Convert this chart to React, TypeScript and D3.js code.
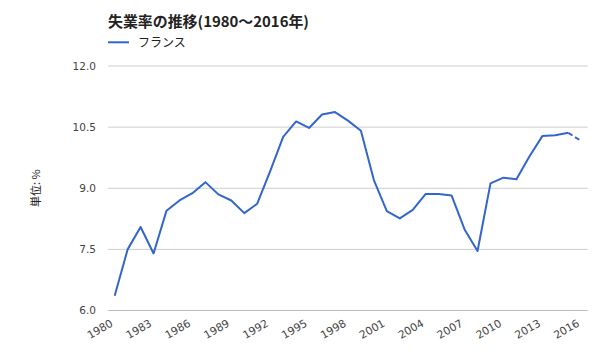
import React from "react";
import * as d3 from "d3";

const years = d3.range(1980, 2017).map(String);
const rates = [
  6.36, 7.5, 8.05, 7.4, 8.45, 8.7, 8.88, 9.15, 8.85, 8.7,
  8.39, 8.62, 9.42, 10.26, 10.64, 10.48, 10.81, 10.87, 10.66, 10.41,
  9.2, 8.44, 8.26, 8.47, 8.86, 8.86, 8.82, 7.99, 7.46, 9.12,
  9.26, 9.22, 9.78, 10.28, 10.3, 10.36, 10.16,
];
const yTicks = [6.0, 7.5, 9.0, 10.5, 12.0];
const xTickYears = d3.range(1980, 2017, 3).map(String);
const seriesName = "フランス";
const title = "失業率の推移(1980〜2016年)";
const yLabel = "単位: %";
// last value is an estimate -> dashed
const estimateFrom = 2015;

const W = 600;
const H = 360;
const left = 108.2;
const right = 587.7;
const top = 66;
const bottom = 310.5;
const cjk = "'Noto Sans CJK JP', 'Noto Sans', sans-serif";
const num = "'DejaVu Sans', 'Noto Sans CJK JP', sans-serif";
const blue = "#3366cc";

export default function App() {
  const x = d3.scalePoint<string>().domain(years).range([left, right]).padding(0.5);
  const y = d3.scaleLinear().domain([6, 12]).range([bottom, top]);

  const pts = years.map((yr, i) => ({ yr: +yr, v: rates[i] }));
  const line = d3
    .line<{ yr: number; v: number }>()
    .x((d) => x(String(d.yr))!)
    .y((d) => y(d.v));
  const solid = pts.filter((d) => d.yr <= estimateFrom);
  const dashed = pts.filter((d) => d.yr >= estimateFrom);

  return (
    <svg width={W} height={H} style={{ position: "absolute", left: 0, top: 0 }} fontFamily={cjk}>
      <rect width={W} height={H} fill="#fff" />
      <text x={108} y={27} fontSize={14.5} fontWeight="bold" fill="#222" textLength={201} lengthAdjust="spacingAndGlyphs">
        {title}
      </text>
      <line x1={108} x2={129} y1={42.3} y2={42.3} stroke={blue} strokeWidth={2} />
      <text x={138} y={46.5} fontSize={12} fill="#222">
        {seriesName}
      </text>

      {yTicks.map((t) => (
        <g key={t}>
          <line x1={left} x2={right} y1={y(t)} y2={y(t)} stroke={t === 6 ? "#bbb" : "#ccc"} strokeWidth={1} />
          <text x={96} y={y(t) + 3.8} fontSize={10.5} fontFamily={num} textAnchor="end" fill="#444">
            {t.toFixed(1)}
          </text>
        </g>
      ))}

      <text
        transform={`translate(39.5, ${(top + bottom) / 2}) rotate(-90)`}
        fontSize={11}
        textAnchor="middle"
        fill="#222"
      >
        {yLabel}
      </text>

      {xTickYears.map((t) => (
        <text
          key={t}
          transform={`translate(${x(t)! - 1}, ${bottom + 15}) rotate(-30)`}
          fontSize={10.8}
          fontFamily={num}
          textAnchor="end"
          fill="#444"
        >
          {t}
        </text>
      ))}

      <path d={line(solid)!} fill="none" stroke={blue} strokeWidth={2} strokeLinejoin="round" />
      <path d={line(dashed)!} fill="none" stroke={blue} strokeWidth={2} strokeDasharray="5,3" />
    </svg>
  );
}
